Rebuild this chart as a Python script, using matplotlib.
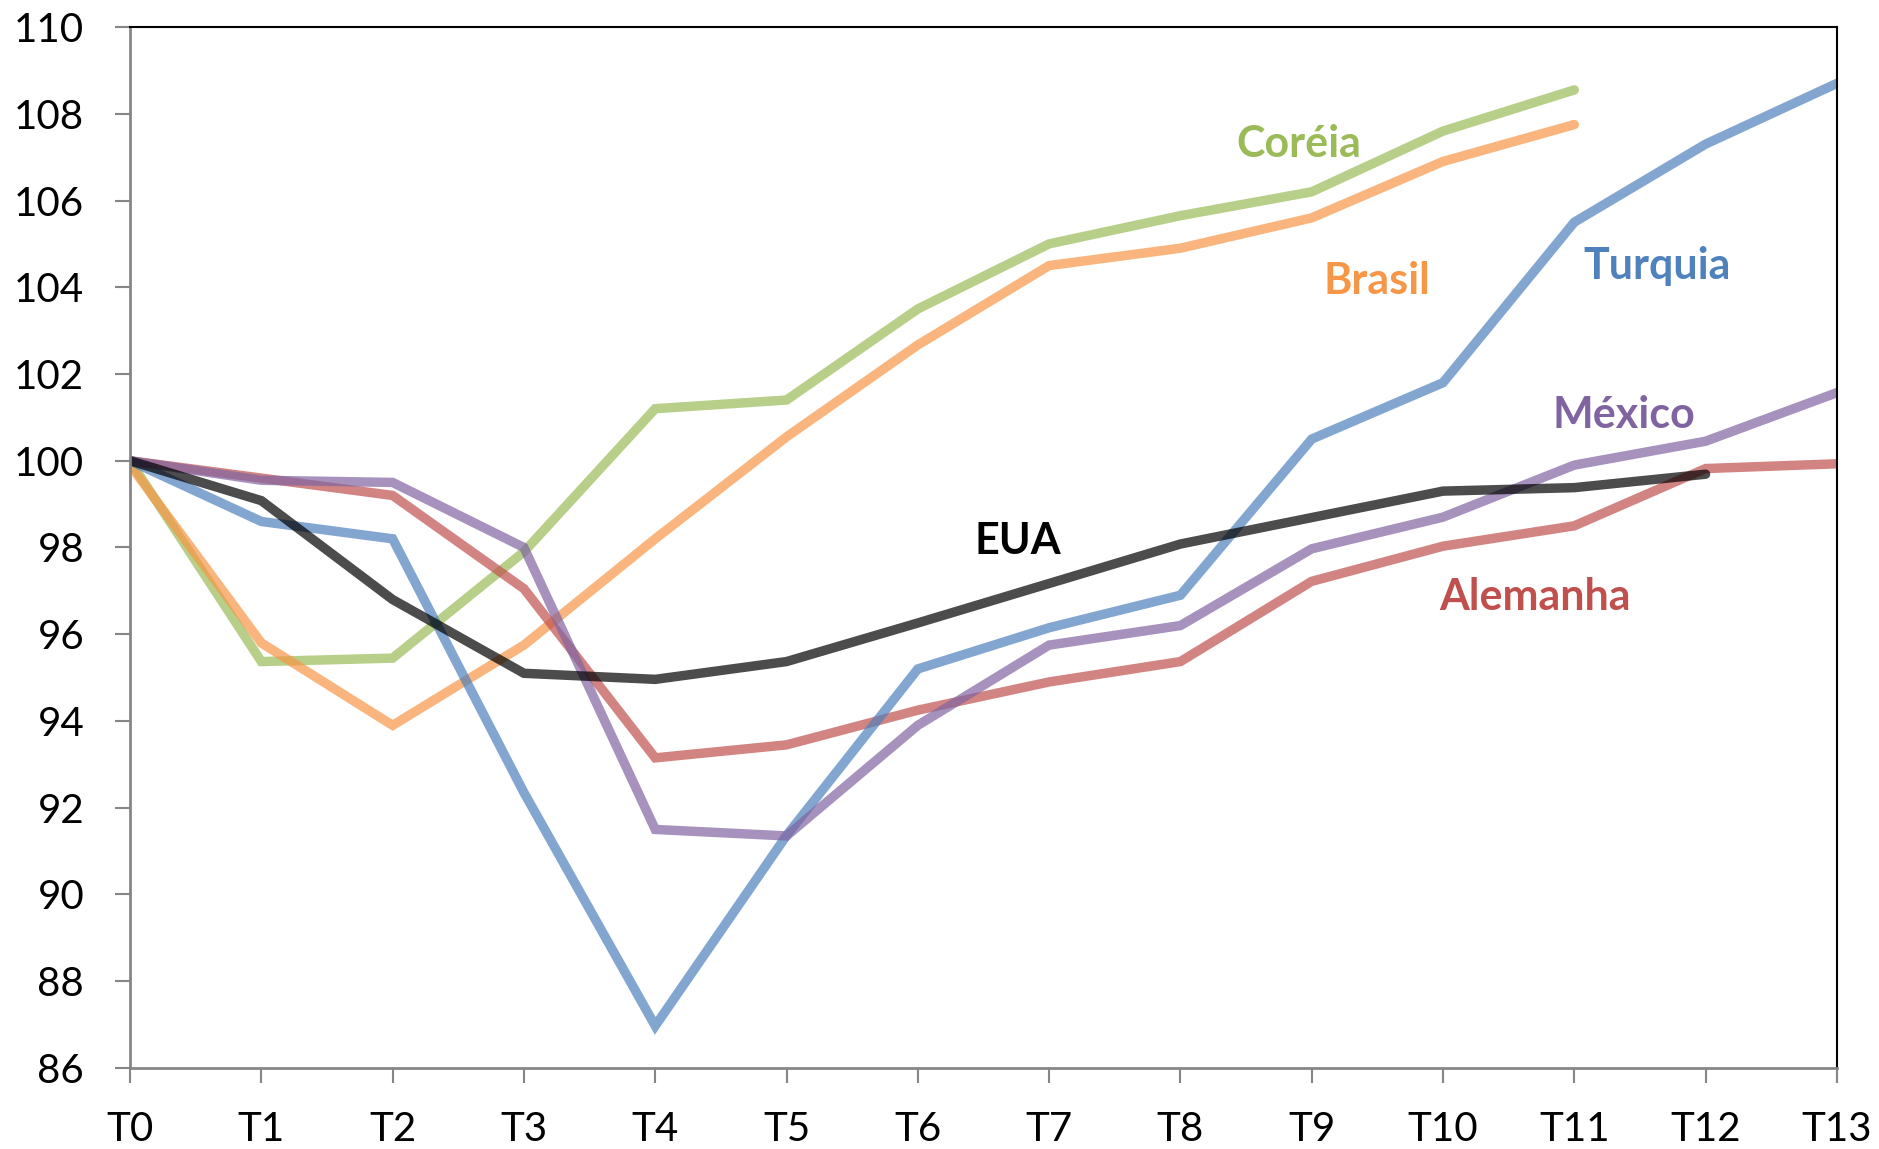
import matplotlib.pyplot as plt

# periods and series (index, T0 = 100)
periods = ['T0', 'T1', 'T2', 'T3', 'T4', 'T5', 'T6', 'T7', 'T8', 'T9', 'T10', 'T11', 'T12', 'T13']

coreia = [100, 95.37, 95.45, 97.9, 101.2, 101.4, 103.5, 105.0, 105.65, 106.2, 107.6, 108.55]
brasil = [99.9, 95.8, 93.9, 95.75, 98.2, 100.55, 102.67, 104.5, 104.9, 105.6, 106.9, 107.75]
turquia = [100, 98.6, 98.2, 92.35, 86.97, 91.36, 95.2, 96.15, 96.9, 100.5, 101.8, 105.5, 107.3, 108.7]
mexico = [100, 99.55, 99.5, 98.0, 91.5, 91.35, 93.9, 95.75, 96.2, 97.97, 98.7, 99.9, 100.45, 101.57]
alemanha = [100, 99.6, 99.2, 97.05, 93.15, 93.45, 94.25, 94.9, 95.37, 97.22, 98.03, 98.5, 99.82, 99.93]
eua = [100, 99.08, 96.8, 95.1, 94.96, 95.37, 96.26, 97.17, 98.08, 98.69, 99.3, 99.38, 99.69]

series = [
    ('Coréia', coreia, '#9BBB59', 8.9, 107.3),
    ('Brasil', brasil, '#F79646', 9.5, 104.15),
    ('Alemanha', alemanha, '#C0504D', 10.7, 96.85),
    ('Turquia', turquia, '#4F81BD', 11.63, 104.5),
    ('México', mexico, '#8064A2', 11.38, 101.05),
    ('EUA', eua, '#000000', 6.76, 98.15),
]

plt.rcParams['font.family'] = ['Lato', 'DejaVu Sans']

fig = plt.figure(figsize=(18.79, 11.49), dpi=100)
ax = fig.add_axes([0.0692, 0.0705, 0.9084, 0.906])

for name, vals, color, lx, ly in series:
    ax.plot(range(len(vals)), vals, color=color, alpha=0.7, lw=6.8,
            solid_capstyle='round', solid_joinstyle='miter')
    ax.text(lx, ly, name, color=color, fontsize=31, fontweight='bold',
            ha='center', va='center')

ax.set_xlim(0, 13)
ax.set_ylim(86, 110)
ax.set_xticks(range(len(periods)))
ax.set_xticklabels(periods)
ax.set_yticks(range(86, 111, 2))

for side in ['left', 'bottom']:
    ax.spines[side].set_color('#868686')
    ax.spines[side].set_linewidth(2)
for side in ['top', 'right']:
    ax.spines[side].set_color('black')
    ax.spines[side].set_linewidth(1.5)

ax.tick_params(axis='both', direction='out', length=11, width=1.5, color='#868686',
               labelsize=29, labelcolor='black')
ax.tick_params(axis='y', pad=22)
ax.tick_params(axis='x', pad=20)

fig.savefig('out.png', dpi=100)
